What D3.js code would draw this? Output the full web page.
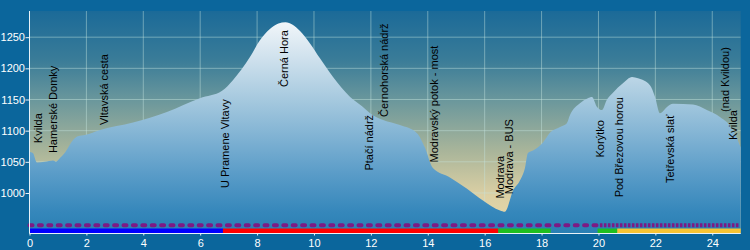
<!DOCTYPE html>
<html>
<head>
<meta charset="utf-8">
<script src="https://cdn.jsdelivr.net/npm/d3@7"></script>
<style>
  body { margin: 0; background: #0b669c; }
  svg { display: block; }
</style>
</head>
<body>
<div id="chart"></div>
<script>
const width = 750;
const height = 250;

// elevation profile: distance in km, elevation in m
const km = [0, 0.12, 0.26, 0.54, 0.83, 0.93, 1.07, 1.25, 1.53, 1.70, 1.95, 2.48, 3.64, 4.83, 5.99, 6.77, 7.15, 7.75, 8.10, 8.45, 8.75, 9.0, 9.25, 9.51, 9.86, 10.21, 10.67, 11.27, 11.69, 11.97, 12.43, 13.02, 13.62, 13.90, 14.18, 14.78, 15.38, 15.94, 16.54, 16.71, 17.0, 17.24, 17.42, 17.52, 17.70, 18.05, 18.30, 18.65, 18.89, 19.0, 19.35, 19.63, 19.77, 19.95, 20.12, 20.30, 20.51, 20.86, 21.18, 21.39, 21.81, 21.99, 22.16, 22.41, 22.62, 23.32, 23.81, 24.27, 24.73, 25.0];
const elevation = [1066, 1064, 1049, 1050, 1052, 1050, 1056, 1065, 1085, 1091, 1093, 1101, 1113, 1130, 1152, 1164, 1181, 1218, 1245, 1263, 1272, 1274, 1270, 1260, 1240, 1216, 1186, 1154, 1139, 1128, 1117, 1109, 1096, 1073, 1040, 1025, 1007, 988, 972, 970, 1004, 1020, 1041, 1064, 1068, 1081, 1097, 1106, 1112, 1125, 1144, 1152, 1154, 1138, 1133, 1150, 1161, 1176, 1186, 1184, 1173, 1154, 1128, 1138, 1143, 1142, 1133, 1122, 1101, 1073];

// waypoint labels
const placeNames = ["Kvilda", "Hamerské Domky", "Vltavská cesta", "U Pramene Vltavy", "Černá Hora", "Ptačí nádrž", "Černohorská nádrž", "Modravský potok - most", "Modrava", "Modrava - BUS", "Korýtko", "Pod Březovou horou", "Tetřevská slať", "(nad Kvildou)", "Kvilda"];
const placeKm = [0.44, 0.97, 2.76, 7.01, 9.09, 12.07, 12.6, 14.36, 16.68, 17.0, 20.19, 20.86, 22.65, 24.59, 24.87];
const placeElev = [1080, 1064, 1109, 1008, 1170, 1036, 1122, 1049, 991, 998, 1057, 993, 1016, 1130, 1085];

// surface bar under the profile
const surfaceFrom = [0, 6.8, 16.48, 19.97, 20.66];
const surfaceTo = [6.8, 16.48, 18.32, 20.66, 25.0];
const surfaceColor = ["#0000ff", "#ff0000", "#1fbf1f", "#1fbf1f", "#f7c434"];

// purple track-type line
const trackFrom = [0, 20.05];
const trackTo = [20.05, 24.95];
const trackDash = ["3,6.4", "2.6,1.4"];

const xTicks = [0, 2, 4, 6, 8, 10, 12, 14, 16, 18, 20, 22, 24];
const yTicks = [1000, 1050, 1100, 1150, 1200, 1250];

const plot = { left: 29.5, right: 740.7, top: 11, bottom: 233.5 };

const x = d3.scaleLinear().domain([0, 25]).range([plot.left, plot.right]);
const y = d3.scaleLinear().domain([935, 1292]).range([plot.bottom, plot.top]);

const svg = d3.select("#chart")
    .append("svg")
    .attr("width", width)
    .attr("height", height);

const defs = svg.append("defs");

const sky = defs.append("linearGradient")
    .attr("id", "sky")
    .attr("gradientUnits", "userSpaceOnUse")
    .attr("x1", 0).attr("x2", 0)
    .attr("y1", plot.top).attr("y2", plot.bottom);
[[0, "#1b6a98"], [0.22, "#3a7c98"], [0.40, "#6a979c"], [0.63, "#a9b59a"], [0.83, "#dcd0a4"], [1, "#e9daab"]]
    .forEach(s => sky.append("stop").attr("offset", s[0]).attr("stop-color", s[1]));

const ground = defs.append("linearGradient")
    .attr("id", "ground")
    .attr("gradientUnits", "userSpaceOnUse")
    .attr("x1", 0).attr("x2", 0)
    .attr("y1", 20).attr("y2", plot.bottom);
[[0, "#f3f7fa"], [0.18, "#cfe1ed"], [0.38, "#a4c8de"], [0.52, "#86b6d5"], [0.72, "#5a9cc8"], [0.9, "#3587bb"], [1, "#2a7fb3"]]
    .forEach(s => ground.append("stop").attr("offset", s[0]).attr("stop-color", s[1]));

// plot background
svg.append("rect")
    .attr("x", plot.left)
    .attr("y", plot.top)
    .attr("width", plot.right - plot.left)
    .attr("height", plot.bottom - plot.top)
    .attr("fill", "url(#sky)");

// grid
svg.selectAll(".xGrid")
    .data(xTicks.filter(d => d > 0))
    .enter()
    .append("line")
    .attr("x1", d => x(d))
    .attr("x2", d => x(d))
    .attr("y1", plot.top)
    .attr("y2", plot.bottom)
    .attr("stroke", "rgba(200,230,225,0.45)")
    .attr("stroke-width", 1);

svg.selectAll(".yGrid")
    .data(yTicks)
    .enter()
    .append("line")
    .attr("x1", plot.left)
    .attr("x2", plot.right)
    .attr("y1", d => y(d))
    .attr("y2", d => y(d))
    .attr("stroke", "rgba(200,230,225,0.45)")
    .attr("stroke-width", 1);

// profile
const profile = km.map((d, i) => ({ km: d, ele: elevation[i] }));

const area = d3.area()
    .x(d => x(d.km))
    .y0(y(935))
    .y1(d => y(d.ele))
    .curve(d3.curveMonotoneX);

svg.append("path")
    .datum(profile)
    .attr("fill", "url(#ground)")
    .attr("d", area);

// track line (purple)
trackFrom.forEach((f, i) => {
    svg.append("line")
        .attr("x1", x(f))
        .attr("x2", x(trackTo[i]))
        .attr("y1", 225.3)
        .attr("y2", 225.3)
        .attr("stroke", "#7d1a84")
        .attr("stroke-width", 4)
        .attr("stroke-linecap", i === 0 ? "round" : "butt")
        .attr("stroke-dasharray", trackDash[i]);
});

// surface bar
surfaceFrom.forEach((f, i) => {
    svg.append("line")
        .attr("x1", x(f))
        .attr("x2", x(surfaceTo[i]))
        .attr("y1", 230.8)
        .attr("y2", 230.8)
        .attr("stroke", surfaceColor[i])
        .attr("stroke-width", 4.5);
});

// axes
const xAxis = svg.append("g")
    .attr("transform", `translate(0,${plot.bottom})`)
    .call(d3.axisBottom(x).tickValues(xTicks).tickSize(2).tickSizeOuter(0));

const yAxis = svg.append("g")
    .attr("transform", `translate(${plot.left},0)`)
    .call(d3.axisLeft(y).tickValues(yTicks).tickFormat(d3.format("d")).tickSize(4).tickSizeOuter(0));

[xAxis, yAxis].forEach(g => {
    g.select(".domain").remove();
    g.selectAll("line").attr("stroke", "#e8f2f8");
    g.selectAll("text")
        .attr("fill", "#ffffff")
        .style("font-family", "'Liberation Sans', Arial, sans-serif")
        .style("font-size", "11px");
});
xAxis.selectAll("text").attr("dy", "0.95em").attr("y", 3);
yAxis.selectAll("text").attr("x", -4.5);

svg.append("line")
    .attr("x1", plot.left)
    .attr("x2", plot.right)
    .attr("y1", plot.bottom)
    .attr("y2", plot.bottom)
    .attr("stroke", "#e8f2f8");

svg.append("line")
    .attr("x1", plot.left)
    .attr("x2", plot.left)
    .attr("y1", plot.top)
    .attr("y2", plot.bottom)
    .attr("stroke", "#e8f2f8");

// waypoint names
svg.selectAll(".place")
    .data(placeNames)
    .enter()
    .append("text")
    .attr("class", "place")
    .attr("transform", (d, i) => `translate(${x(placeKm[i])},${y(placeElev[i])}) rotate(-90)`)
    .style("font-family", "'Liberation Sans', Arial, sans-serif")
    .style("font-size", "11px")
    .attr("fill", "#000")
    .text(d => d);
</script>
</body>
</html>
